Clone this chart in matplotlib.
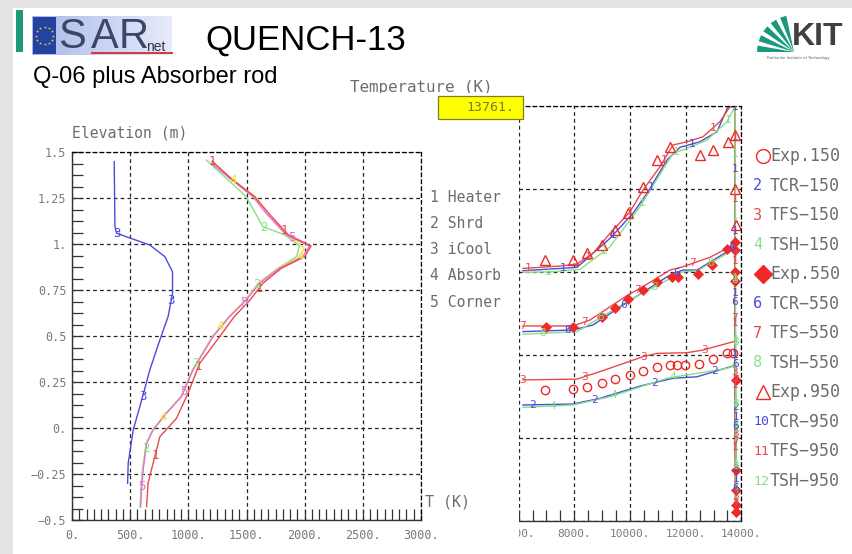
import matplotlib
matplotlib.use('Agg')
import matplotlib.pyplot as plt
import numpy as np
from matplotlib.patches import Rectangle, Polygon
from matplotlib.transforms import Bbox
from matplotlib.ticker import MultipleLocator
from matplotlib.colors import LinearSegmentedColormap

W, H = 852, 554
MONO = 'DejaVu Sans Mono'
SANS = 'Liberation Sans'
GREY = '#6c6c6c'
TICKGREY = '#7a7a7a'

BLUE = '#4b4bdc'
RED = '#e84a4a'
GREEN = '#86e086'
PINK = '#e070dc'
YELLOW = '#f2e24a'
EXPRED = '#f02828'

# axial temperature profiles, T (K) over elevation (m)
z_heater = [1.452, 1.359, 1.259, 1.168, 1.051, 0.991, 0.933, 0.870, 0.788, 0.697,
            0.607, 0.498, 0.353, 0.190, 0.054, -0.046, -0.190, -0.299, -0.426]
t_heater = [1205, 1365, 1570, 1690, 1860, 2055, 2000, 1800, 1640, 1530,
            1395, 1269, 1098, 997, 898, 755, 697, 654, 641]
z_shroud = [1.458, 1.259, 1.096, 1.051, 0.991, 0.933, 0.870, 0.788, 0.697, 0.607,
            0.498, 0.317, 0.172, 0.082, -0.009, -0.082, -0.227, -0.336, -0.426]
t_shroud = [1155, 1498, 1640, 1830, 1955, 1930, 1770, 1600, 1490, 1350,
            1205, 1035, 935, 808, 693, 638, 605, 592, 585]
z_icool = [1.449, 1.096, 1.060, 0.996, 0.933, 0.851, 0.734, 0.607, 0.480, 0.317,
           0.117, -0.009, -0.190, -0.299]
t_icool = [363, 369, 383, 669, 798, 864, 864, 826, 755, 669, 583, 526, 483, 478]
z_absorb = [1.445, 1.359, 1.259, 1.168, 1.051, 0.980, 0.933, 0.870, 0.788, 0.697,
            0.607, 0.498, 0.317, 0.172, 0.082, -0.009, -0.082, -0.227, -0.336, -0.426]
t_absorb = [1200, 1362, 1575, 1690, 1850, 1998, 1960, 1775, 1605, 1492,
            1350, 1208, 1036, 938, 810, 695, 640, 610, 597, 588]
z_corner = [1.440, 1.359, 1.259, 1.168, 1.051, 0.991, 0.933, 0.870, 0.788, 0.697,
            0.607, 0.498, 0.317, 0.172, 0.082, -0.009, -0.082, -0.227, -0.336, -0.426]
t_corner = [1198, 1355, 1555, 1670, 1841, 2041, 1984, 1784, 1612, 1498,
            1355, 1212, 1040, 941, 812, 697, 641, 611, 598, 589]

# time histories at 150, 550 and 950 mm, time (s) / T (K)
exp150_t = [6948, 7953, 8456, 8995, 9461, 10000, 10467, 10970, 11436, 11688,
            11975, 12478, 12980, 13483, 13699]
exp150_T = [787, 792, 804, 828, 853, 878, 904, 924, 938, 938,
            938, 944, 972, 1008, 1008]
tcr150_t = [6158, 7953, 8923, 10359, 11544, 12406, 13699, 13761, 13800]
tcr150_T = [697, 703, 737, 811, 858, 867, 932, 935, 80]
tfs150_t = [6158, 8097, 8923, 10467, 10970, 12047, 12621, 13699, 13761, 13790]
tfs150_T = [848, 853, 898, 988, 1008, 1012, 1028, 1078, 1080, 80]
tsh150_t = [6158, 7953, 9282, 11329, 13483, 13699, 13761, 13810]
tsh150_T = [683, 697, 747, 858, 918, 930, 932, 80]

exp550_t = [6984, 7953, 8995, 9461, 9928, 10467, 10970, 11508, 11724, 12442,
            12944, 13483, 13770, 13775, 13780, 13785, 13790, 13800, 13805, 13810, 13815]
exp550_T = [1165, 1169, 1229, 1280, 1336, 1390, 1440, 1466, 1466, 1486,
            1540, 1635, 1677, 1628, 1496, 1446, 848, 305, 185, 95, 52]
tcr550_t = [6158, 7953, 8671, 9928, 11436, 11903, 12406, 13483, 13761, 13800]
tcr550_T = [1139, 1149, 1179, 1319, 1480, 1510, 1510, 1620, 1660, 80]
tfs550_t = [6158, 7953, 8564, 9928, 10467, 11436, 11903, 12873, 13591, 13761, 13790]
tfs550_T = [1173, 1173, 1209, 1360, 1410, 1510, 1530, 1587, 1650, 1680, 80]
tsh550_t = [6158, 8097, 10000, 11903, 12406, 13483, 13761, 13810]
tsh550_T = [1123, 1139, 1330, 1500, 1504, 1610, 1650, 80]

exp950_t = [6948, 7953, 8456, 8995, 9461, 9928, 10467, 10970, 11436, 12513,
            12980, 13519, 13770, 13780, 13790]
exp950_T = [1570, 1570, 1611, 1661, 1751, 1852, 2012, 2173, 2253, 2203,
            2233, 2283, 2323, 2000, 1780]
tcr950_t = [6158, 8097, 9282, 10108, 10611, 11329, 11795, 12513, 13124, 13519, 13761, 13800]
tcr950_T = [1506, 1526, 1701, 1852, 1972, 2173, 2249, 2283, 2343, 2494, 2494, 80]
tfs950_t = [6158, 7487, 8097, 8671, 9282, 10000, 10467, 11077, 11544, 12047,
            12621, 13232, 13591, 13761, 13790]
tfs950_T = [1520, 1534, 1546, 1611, 1731, 1861, 1992, 2133, 2263, 2283,
            2313, 2404, 2494, 2494, 80]
tsh950_t = [6158, 7235, 8205, 9282, 10359, 11544, 12047, 12765, 13483, 13770, 13810]
tsh950_T = [1496, 1500, 1514, 1650, 1892, 2213, 2243, 2293, 2404, 2494, 80]

left_legend = ['1 Heater', '2 Shrd', '3 iCool', '4 Absorb', '5 Corner']
z_ticks = [-0.5, -0.25, 0, 0.25, 0.5, 0.75, 1.0, 1.25, 1.5]
z_ticklabels = ['\u22120.5', '\u22120.25', '0.', '0.25', '0.5', '0.75', '1.', '1.25', '1.5']
T_ticks = [0, 500, 1000, 1500, 2000, 2500, 3000]
time_ticks = [6000, 8000, 10000, 12000, 14000]
time_now = 13761

fig = plt.figure(figsize=(W / 100, H / 100), dpi=100)
fig.patch.set_facecolor('white')


def box(l, t, r, b):
    return [l / W, 1 - b / H, (r - l) / W, (b - t) / H]


def pixel_axes(z):
    a = fig.add_axes([0, 0, 1, 1], zorder=z)
    a.set_xlim(0, W)
    a.set_ylim(H, 0)
    a.axis('off')
    return a


def tag_curve(ax, x, y, tag, color, step, offset, fs):
    # write the curve number every `step` pixels along the line
    pts = ax.transData.transform(np.column_stack([x, y]))
    s = np.concatenate([[0], np.cumsum(np.hypot(*np.diff(pts, axis=0).T))])
    inv = ax.transData.inverted()
    for d in np.arange(offset, s[-1], step):
        xd, yd = inv.transform((np.interp(d, s, pts[:, 0]), np.interp(d, s, pts[:, 1])))
        ax.text(xd, yd, tag, color=color, fontsize=fs, family=MONO,
                ha='center', va='center', clip_on=True)


def frame(ax):
    for side in ('top', 'right'):
        ax.spines[side].set_linestyle((0, (3, 2.5)))
        ax.spines[side].set_linewidth(0.9)
    for side in ('left', 'bottom'):
        ax.spines[side].set_linewidth(1.0)
        ax.spines[side].set_color('#333333')
    ax.grid(True, which='major', color='#222222', linestyle=(0, (3, 2.5)), linewidth=0.9)
    ax.tick_params(which='both', direction='in', length=8, width=0.9, color='#333333',
                   top=False, right=False, labelsize=8.5, labelcolor=TICKGREY)
    for lab in ax.get_xticklabels() + ax.get_yticklabels():
        lab.set_family(MONO)


# slide frame and logos
bg = pixel_axes(-1)
bg.add_patch(Rectangle((0, 0), W, 8, color='#e3e3e3', lw=0))
bg.add_patch(Rectangle((0, 0), 13, H, color='#e3e3e3', lw=0))
bg.add_patch(Rectangle((16, 10), 7, 42, color='#1f9a78', lw=0))

sar_cmap = LinearSegmentedColormap.from_list('sar', ['#a9b9ea', '#e6ebfb'])
bg.imshow(np.linspace(0, 1, 64)[None, :], extent=(32, 172, 55, 16), cmap=sar_cmap, aspect='auto')
bg.add_patch(Rectangle((33, 17), 23, 37, color='#2243a3', lw=0))
ang = np.linspace(0, 2 * np.pi, 13)[:-1]
bg.scatter(44.5 + 8.5 * np.cos(ang), 35.5 + 8.5 * np.sin(ang), s=5, marker='*', color='#ffd500', lw=0)
bg.text(58, 37, 'S', fontsize=30, family=SANS, color='#3e4668', va='center')
bg.text(91, 37, 'A', fontsize=30, family=SANS, color='#3e4668', va='center')
bg.text(119, 37, 'R', fontsize=30, family=SANS, color='#3e4668', va='center')
bg.plot([92, 172], [53, 53], color='#d23a3a', lw=1.4)
bg.text(146, 47, 'net', fontsize=10, family=SANS, color='#333344', va='center')
bg.text(205, 40, 'QUENCH-13', fontsize=25, family=SANS, color='black', va='center')
bg.text(33, 77, 'Q-06 plus Absorber rod', fontsize=17, family=SANS, color='black', va='center')

origin = np.array([794.0, 52.0])
for a0 in (175, 158, 141, 124, 107):
    th = np.radians([a0 - 5, a0 + 5])
    pts = [origin,
           origin + 37 * np.array([np.cos(th[0]), -np.sin(th[0])]),
           origin + 37 * np.array([np.cos(th[1]), -np.sin(th[1])])]
    bg.add_patch(Polygon(pts, closed=True, color='#1a9a7a', lw=0))
bg.text(792, 37, 'KIT', fontsize=23, family=SANS, weight='bold', color='#404040', va='center')
bg.text(798, 58, 'Karlsruhe Institute of Technology', fontsize=3.2, family=SANS,
        color='#666666', ha='center', va='center')
bg.set_xlim(0, W)
bg.set_ylim(H, 0)

# left: axial profiles
ax1 = fig.add_axes(box(72, 152.3, 421, 520.3))
ax1.set_facecolor('none')
ax1.plot(t_shroud, z_shroud, color=GREEN, lw=1)
ax1.plot(t_absorb, z_absorb, color=YELLOW, lw=1)
ax1.plot(t_corner, z_corner, color=PINK, lw=1)
ax1.plot(t_heater, z_heater, color=RED, lw=1)
ax1.plot(t_icool, z_icool, color=BLUE, lw=1)
ax1.set_xlim(0, 3000)
ax1.set_ylim(-0.5, 1.5)
ax1.set_xticks(T_ticks)
ax1.set_xticklabels([f'{v}.' for v in T_ticks])
ax1.set_yticks(z_ticks)
ax1.set_yticklabels(z_ticklabels)
ax1.xaxis.set_minor_locator(MultipleLocator(62.5))
ax1.yaxis.set_minor_locator(MultipleLocator(0.0625))
frame(ax1)
ax1.tick_params(axis='x', pad=6)
ax1.tick_params(axis='y', pad=4)
tag_curve(ax1, t_heater, z_heater, '1', RED, 100, 0, 9)
tag_curve(ax1, t_shroud, z_shroud, '2', GREEN, 100, 90, 9)
tag_curve(ax1, t_icool, z_icool, '3', BLUE, 100, 72, 9)
tag_curve(ax1, t_absorb, z_absorb, '4', YELLOW, 108, 28, 9)
tag_curve(ax1, t_corner, z_corner, '5', PINK, 108, 110, 9)

# right: time histories
ax2 = fig.add_axes(box(505, 105.7, 741.4, 520.7))
ax2.set_facecolor('none')
series = [
    (tcr150_t, tcr150_T, BLUE, '2', 10), (tfs150_t, tfs150_T, RED, '3', 0),
    (tsh150_t, tsh150_T, GREEN, '4', 30),
    (tcr550_t, tcr550_T, BLUE, '6', 45), (tfs550_t, tfs550_T, RED, '7', 0),
    (tsh550_t, tsh550_T, GREEN, '8', 20),
    (tcr950_t, tcr950_T, BLUE, '1', 40), (tfs950_t, tfs950_T, RED, '1', 5),
    (tsh950_t, tsh950_T, GREEN, '1', 25),
]
for tt, TT, col, tag, off in series:
    ax2.plot(tt, TT, color=col, lw=1)
ax2.plot(exp150_t, exp150_T, 'o', ms=6, mfc='none', mec=EXPRED, mew=1)
ax2.plot(exp550_t, exp550_T, 'D', ms=5.5, mfc=EXPRED, mec=EXPRED, mew=0.5)
ax2.plot(exp950_t, exp950_T, '^', ms=7, mfc='none', mec=EXPRED, mew=1)
ax2.set_xlim(5512, 14000)
ax2.set_ylim(0, 2500)
ax2.set_xticks(time_ticks)
ax2.set_xticklabels([f'{v}.' for v in time_ticks])
ax2.xaxis.set_minor_locator(MultipleLocator(500))
ax2.set_yticks([0, 500, 1000, 1500, 2000, 2500])
frame(ax2)
ax2.spines['left'].set_visible(False)
ax2.tick_params(axis='y', which='both', left=False, labelleft=False)
ax2.tick_params(axis='x', pad=6, labelsize=8)
for tt, TT, col, tag, off in series:
    tag_curve(ax2, tt, TT, tag, col, 62, off, 8)

# labels, legends and the time marker
ov = pixel_axes(5)
ov.add_patch(Rectangle((503.5, 96), 15.5, 450, color='white', lw=0))
ov.add_patch(Rectangle((490, 524), 29, 25, color='white', lw=0))
ov.add_patch(Rectangle((437.5, 95.5), 85, 23, facecolor='#ffff00', edgecolor='#7d7d22', lw=0.9))
ov.text(514, 107.5, f'{time_now}.', ha='right', va='center', fontsize=9.5, family=MONO, color='#7b7b30')

ttl = ov.text(350, 92, 'Temperature (K)', fontsize=11.4, family=MONO, color=GREY, va='baseline')
ttl.set_clip_box(Bbox.from_extents(0, H - 92.5, W, H))
ttl.set_clip_on(True)
ov.text(72, 133, 'Elevation (m)', fontsize=10.6, family=MONO, color=GREY, va='center')
ov.text(425, 502, 'T (K)', fontsize=10.8, family=MONO, color=GREY, va='center')
for i, lab in enumerate(left_legend):
    ov.text(430, 197 + 26.3 * i, lab, fontsize=10.6, family=MONO, color=GREY, va='center')

right_legend = [
    ('o', 'Exp.150'), ('2', 'TCR\u2212150', BLUE), ('3', 'TFS\u2212150', RED), ('4', 'TSH\u2212150', GREEN),
    ('D', 'Exp.550'), ('6', 'TCR\u2212550', BLUE), ('7', 'TFS\u2212550', RED), ('8', 'TSH\u2212550', GREEN),
    ('^', 'Exp.950'), ('10', 'TCR\u2212950', BLUE), ('11', 'TFS\u2212950', RED), ('12', 'TSH\u2212950', GREEN),
]
for i, item in enumerate(right_legend):
    y = 156 + 29.55 * i
    if len(item) == 2:
        mk, name = item
        filled = mk == 'D'
        ov.plot(763, y, mk, ms=10 if mk != 'D' else 9.5, mfc=EXPRED if filled else 'none',
                mec=EXPRED, mew=1)
    else:
        num, name, col = item
        ov.text(753, y, num, fontsize=11 if len(num) == 1 else 9.5, family=MONO,
                color=col, va='center', ha='left')
    ov.text(770, y, name, fontsize=12, family=MONO, color=GREY, va='center', ha='left')
ov.set_xlim(0, W)
ov.set_ylim(H, 0)

fig.savefig('out.png', dpi=100, facecolor='white')
